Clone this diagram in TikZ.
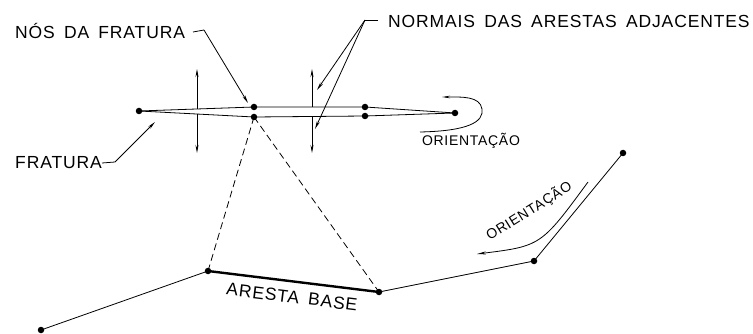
\documentclass[tikz,border=0pt]{standalone}
\usepackage{fontspec}
\setmainfont{Liberation Sans}
\newfontfamily\spacedfont{Liberation Sans}[LetterSpace=5,WordSpace=1.6]
\usetikzlibrary{arrows.meta}
\begin{document}
\begin{tikzpicture}[x=1pt,y=-1pt,
  dot/.style={circle,fill=black,inner sep=0pt,minimum size=6.5pt},
  lbl/.style={font=\spacedfont\fontsize{17.5}{18}\selectfont,inner sep=0pt},
  rlbl/.style={font=\spacedfont\fontsize{17.5}{18}\selectfont,inner sep=0pt},
  slbl/.style={font=\spacedfont\fontsize{14}{15}\selectfont,inner sep=0pt},
  thin line/.style={line width=0.8pt},
  arr/.style={thin line,-{Stealth[length=8pt,width=3pt]}},
  base/.style={line width=2.4pt},
  dashline/.style={thin line,dash pattern=on 7pt off 4pt}]
\useasboundingbox (0,0) rectangle (753,334);
% fracture nodes
\node[dot] (tl) at (139,111) {};
\node[dot] (nu) at (254,107) {};
\node[dot] (nl) at (254,117) {};
\node[dot] (ru) at (365,107) {};
\node[dot] (rl) at (365,116) {};
\node[dot] (tr) at (455,113) {};
\draw[thin line] (tl.center) -- (nu.center) -- (ru.center) -- (tr.center);
\draw[thin line] (tl.center) -- (nl.center) -- (rl.center) -- (tr.center);
% normals
\coordinate (n1u) at (197,109);
\coordinate (n1ut) at (197,69);
\coordinate (n1l) at (197,114);
\coordinate (n1lt) at (197,153);
\coordinate (n2u) at (312,107);
\coordinate (n2ut) at (312,69);
\coordinate (n2l) at (312,117);
\coordinate (n2lt) at (312,153);
\draw[arr] (n1u) -- (n1ut);
\draw[arr] (n1l) -- (n1lt);
\draw[arr] (n2u) -- (n2ut);
\draw[arr] (n2l) -- (n2lt);
% labels
\node[lbl,anchor=west] (nos) at (15,31) {NÓS DA FRATURA};
\node[lbl,anchor=west] (norm) at (388,21) {NORMAIS DAS ARESTAS ADJACENTES};
\node[lbl,anchor=west] (frat) at (15,163) {FRATURA};
\coordinate (nosa) at (193,32);
\coordinate (nosb) at (204,30);
\coordinate (nost) at (248,103);
\draw[thin line] (nosa) -- (nosb);
\draw[arr] (nosb) -- (nost);
\coordinate (norma) at (378,20);
\coordinate (normb) at (365,20);
\coordinate (normt1) at (317,90);
\coordinate (normt2) at (315,129);
\draw[thin line] (norma) -- (normb);
\draw[arr] (normb) -- (normt1);
\draw[arr] (normb) -- (normt2);
\coordinate (frata) at (102,163);
\coordinate (fratb) at (115,162);
\coordinate (fratt) at (155,122);
\draw[thin line] (frata) -- (fratb);
\draw[arr] (fratb) -- (fratt);
% orientation 1
\coordinate (o1a) at (420,132);
\coordinate (o1b) at (482,109);
\coordinate (o1c) at (442,97);
\draw[thin line,-{Stealth[length=8pt,width=2.5pt]}] (o1a) .. controls (468,131) and (484,122) .. (o1b) .. controls (480,96) and (462,97) .. (o1c);
\node[slbl] (ori1) at (471,141) {ORIENTAÇÃO};
% base polyline
\node[dot] (p1) at (41,330) {};
\node[dot] (p2) at (208,271) {};
\node[dot] (p3) at (379,292) {};
\node[dot] (p4) at (534,261) {};
\node[dot] (p5) at (623,153) {};
\draw[thin line] (p1.center) -- (p2.center);
\draw[base] (p2.center) -- (p3.center);
\draw[thin line] (p3.center) -- (p4.center) -- (p5.center);
\draw[dashline] (nl.center) -- (p2.center);
\draw[dashline] (nl.center) -- (p3.center);
\node[rlbl,rotate=-7] (ab) at (292,297) {ARESTA BASE};
% orientation 2
\coordinate (o2a) at (588,182);
\coordinate (o2b) at (477,254);
\draw[thin line,-{Stealth[length=9pt,width=3pt]}] (o2a) .. controls (541,246) .. (o2b);
\node[slbl,rotate=32] (ori2) at (529,211) {ORIENTAÇÃO};
\end{tikzpicture}
\end{document}
